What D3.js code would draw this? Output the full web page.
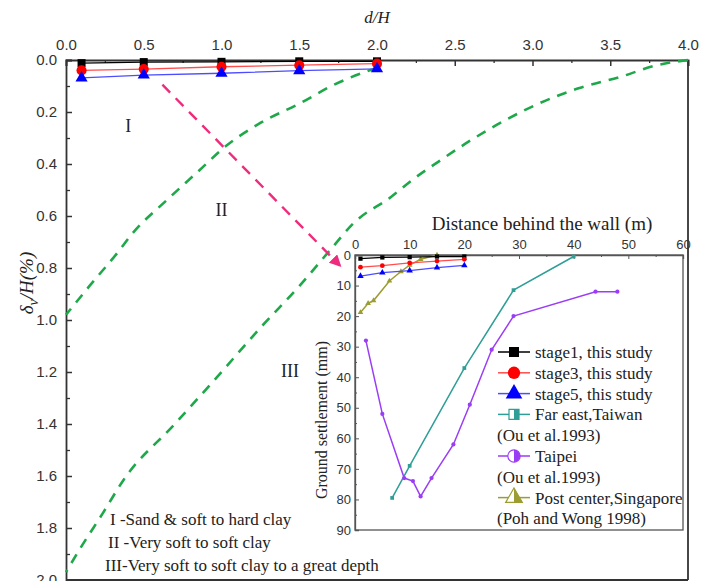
<!DOCTYPE html>
<html>
<head>
<meta charset="utf-8">
<script src="https://cdn.jsdelivr.net/npm/d3@7"></script>
<style>
  body { margin: 0; background: #fff; }
  svg { display: block; }
  .tick text { font-family: "Liberation Sans", Arial, sans-serif; fill: #333; }
  .serif { font-family: "Liberation Serif", "Times New Roman", serif; fill: #222; }
</style>
</head>
<body>
<div id="chart-area"></div>
<script>
// Data //

// distance behind the wall (m), and settlements (mm) of this study
const H = 10; // excavation depth (m), d/H and delta/H (%) of the main plot come from it
const stageDist = [1, 5, 10, 15, 20];
const stage1 = [1.2, 0.8, 0.7, 0.5, 0.5];
const stage3 = [4.0, 3.5, 2.6, 2.0, 1.4];
const stage5 = [6.9, 5.8, 5.1, 4.1, 3.4];

// case histories (distance m, settlement mm)
const farEastDist = [6.8, 10, 20, 29, 40];
const farEastSet = [79.5, 69, 37, 11.5, 0.5];
const taipeiDist = [2, 5, 9, 10.6, 12, 14, 18, 21, 25, 29, 44, 48];
const taipeiSet = [28, 52, 73, 74, 79, 73, 62, 49, 31, 20, 12, 12];
const singDist = [1, 2.4, 3.4, 6.3, 8.4, 10, 12, 15];
const singSet = [18.8, 15.8, 14.9, 8.5, 5.4, 3.3, 1.4, 0];

// zone boundaries (d/H, delta/H %)
const boundary1X = [2.0, 1.72, 1.51, 1.25, 1.02, 0.86, 0.65, 0.43, 0.33, 0.15, 0.0];
const boundary1Y = [0.03, 0.096, 0.165, 0.242, 0.335, 0.423, 0.538, 0.665, 0.742, 0.87, 0.98];
const boundary2X = [4.0, 3.8, 3.57, 3.29, 3.05, 2.83, 2.6, 2.41, 2.23, 2.09, 1.85, 1.70, 1.5, 1.25, 1.0, 0.7, 0.37, 0.24, 0.09, 0.0];
const boundary2Y = [0.0, 0.02, 0.064, 0.11, 0.165, 0.23, 0.31, 0.385, 0.46, 0.527, 0.627, 0.73, 0.87, 1.03, 1.2, 1.4, 1.615, 1.74, 1.88, 1.97];

// arrow from the main plot to the inset (d/H, delta/H %)
const arrowX = [0.62, 1.76];
const arrowY = [0.095, 0.79];

// zone labels
const zoneNames = ["I", "II", "III"];
const zoneX = [0.4, 1.0, 1.44];
const zoneY = [0.275, 0.6, 1.22];
const zoneNotes = ["I -Sand & soft to hard clay", "II -Very soft to soft clay", "III-Very soft to soft clay to a great depth"];

// ticks
const mainXTicks = [0, 0.5, 1, 1.5, 2, 2.5, 3, 3.5, 4];
const mainYTicks = [0, 0.2, 0.4, 0.6, 0.8, 1.0, 1.2, 1.4, 1.6, 1.8, 2.0];
const insetXTicks = [0, 10, 20, 30, 40, 50, 60];
const insetYTicks = [0, 10, 20, 30, 40, 50, 60, 70, 80, 90];

const legendNames = [
  ["stage1, this study"],
  ["stage3, this study"],
  ["stage5, this study"],
  ["Far east,Taiwan", "(Ou et al.1993)"],
  ["Taipei", "(Ou et al.1993)"],
  ["Post center,Singapore", "(Poh and Wong 1998)"]
];

// Canvas //

const svg = d3.select("#chart-area")
  .append("svg")
  .attr("width", 704)
  .attr("height", 581);

const x = d3.scaleLinear().domain([0, 4]).range([66, 688]);
const y = d3.scaleLinear().domain([0, 2]).range([60, 580]);

const x2 = d3.scaleLinear().domain([0, 60]).range([355, 683]);
const y2 = d3.scaleLinear().domain([0, 90]).range([255, 530]);

const zip = (a, b) => a.map((v, i) => [v, b[i]]);

// series styles
const series = [
  {name: "stage1", set: stage1, marker: d3.symbolSquare, mSize: 64, fill: "#000", line: "#000"},
  {name: "stage3", set: stage3, marker: d3.symbolCircle, mSize: 80, fill: "#ff0000", line: "#ff4d4d"},
  {name: "stage5", set: stage5, marker: d3.symbolTriangle, mSize: 64, fill: "#0000ff", line: "#4d4dff"}
];

// Main plot //

// minor ticks
svg.append("g")
  .attr("transform", "translate(0,60)")
  .call(d3.axisTop(x).tickValues(d3.range(0.25, 4, 0.5)).tickSize(-3).tickFormat(""))
  .call(g => g.select(".domain").remove())
  .selectAll("line").attr("stroke", "#333").attr("stroke-width", 1.3);
svg.append("g")
  .attr("transform", "translate(66,0)")
  .call(d3.axisLeft(y).tickValues(d3.range(0.1, 2, 0.2)).tickSize(-4).tickFormat(""))
  .call(g => g.select(".domain").remove())
  .selectAll("line").attr("stroke", "#333").attr("stroke-width", 1.3);

// major axes
var xAxis = svg.append("g")
  .attr("transform", "translate(0,60)")
  .call(d3.axisTop(x).tickValues(mainXTicks).tickSize(-6).tickPadding(10).tickFormat(d3.format(".1f")));
var yAxis = svg.append("g")
  .attr("transform", "translate(66,0)")
  .call(d3.axisLeft(y).tickValues(mainYTicks).tickSize(-6).tickPadding(9).tickFormat(d3.format(".1f")));
[xAxis, yAxis].forEach(a => {
  a.attr("font-size", 15);
  a.selectAll("line").attr("stroke", "#333").attr("stroke-width", 1.5);
  a.select(".domain").attr("stroke", "#333").attr("stroke-width", 1.8);
});

// frame right / bottom
svg.append("line").attr("x1", x(4)).attr("x2", x(4)).attr("y1", y(0)).attr("y2", y(2))
  .attr("stroke", "#333").attr("stroke-width", 1.8);
svg.append("line").attr("x1", x(0)).attr("x2", x(4)).attr("y1", y(2)).attr("y2", y(2))
  .attr("stroke", "#333").attr("stroke-width", 1.8);

// axis titles
svg.append("text")
  .attr("class", "serif")
  .attr("x", (x(0) + x(4)) / 2)
  .attr("y", 23)
  .attr("text-anchor", "middle")
  .attr("font-size", 17)
  .attr("font-style", "italic")
  .text("d/H");

var yTitle = svg.append("text")
  .attr("class", "serif")
  .attr("transform", "translate(33,283) rotate(-90)")
  .attr("text-anchor", "middle")
  .attr("font-size", 19)
  .attr("font-style", "italic");
yTitle.append("tspan").text("δ");
yTitle.append("tspan").attr("font-size", 14).attr("dy", 5).text("v");
yTitle.append("tspan").attr("dy", -5).text("/H(%)");

// zone boundaries
const lineMain = d3.line().x(d => x(d[0])).y(d => y(d[1]));
[zip(boundary1X, boundary1Y), zip(boundary2X, boundary2Y)].forEach(b => {
  svg.append("path")
    .attr("d", d3.line().curve(d3.curveMonotoneX).x(d => x(d[0])).y(d => y(d[1]))(b))
    .attr("fill", "none")
    .attr("stroke", "#1fa84a")
    .attr("stroke-width", 2.6)
    .attr("stroke-dasharray", "10,8");
});

// zone labels
svg.selectAll(".zone")
  .data(zoneNames)
  .enter().append("text")
  .attr("class", "serif zone")
  .attr("x", (d, i) => x(zoneX[i]))
  .attr("y", (d, i) => y(zoneY[i]))
  .attr("text-anchor", "middle")
  .attr("font-size", 18)
  .text(d => d);

svg.selectAll(".note")
  .data(zoneNotes)
  .enter().append("text")
  .attr("class", "serif note")
  .attr("x", (d, i) => [110, 108, 105][i])
  .attr("y", (d, i) => 525 + i * 23)
  .attr("font-size", 17)
  .text(d => d);

// arrow
svg.append("defs").append("marker")
  .attr("id", "head")
  .attr("viewBox", "0 0 10 10")
  .attr("refX", 8).attr("refY", 5)
  .attr("markerWidth", 5).attr("markerHeight", 5)
  .attr("orient", "auto")
  .append("path").attr("d", "M0,0L10,5L0,10z").attr("fill", "#ee2b7c");
svg.append("path")
  .attr("d", lineMain(zip(arrowX, arrowY)))
  .attr("stroke", "#ee2b7c")
  .attr("stroke-width", 2.4)
  .attr("stroke-dasharray", "11,8")
  .attr("marker-end", "url(#head)");

// this study, main plot (settlement mm -> % of H)
series.forEach(s => {
  const pts = zip(stageDist.map(d => d / H), s.set.map(v => v / (H * 10)));
  svg.append("path")
    .attr("d", lineMain(pts))
    .attr("fill", "none")
    .attr("stroke", s.line)
    .attr("stroke-width", 1.3);
  svg.selectAll(".m-" + s.name)
    .data(pts)
    .enter().append("path")
    .attr("transform", d => "translate(" + x(d[0]) + "," + y(d[1]) + ")")
    .attr("d", d3.symbol().type(s.marker).size(s.mSize))
    .attr("fill", s.fill);
});

// Inset //

var inset = svg.append("g");

inset.append("rect")
  .attr("x", x2(0)).attr("y", y2(0))
  .attr("width", x2(60) - x2(0)).attr("height", y2(90) - y2(0))
  .attr("fill", "#fff")
  .attr("stroke", "#555")
  .attr("stroke-width", 1.3);

inset.append("g")
  .attr("transform", "translate(0," + y2(0) + ")")
  .call(d3.axisTop(x2).tickValues(d3.range(5, 60, 10)).tickSize(-2).tickFormat(""))
  .call(g => g.select(".domain").remove())
  .selectAll("line").attr("stroke", "#555");
inset.append("g")
  .attr("transform", "translate(" + x2(0) + ",0)")
  .call(d3.axisLeft(y2).tickValues(d3.range(5, 90, 10)).tickSize(-2).tickFormat(""))
  .call(g => g.select(".domain").remove())
  .selectAll("line").attr("stroke", "#555");

var ix = inset.append("g")
  .attr("transform", "translate(0," + y2(0) + ")")
  .call(d3.axisTop(x2).tickValues(insetXTicks).tickSize(-4).tickPadding(6));
var iy = inset.append("g")
  .attr("transform", "translate(" + x2(0) + ",0)")
  .call(d3.axisLeft(y2).tickValues(insetYTicks).tickSize(-4).tickPadding(4));
[ix, iy].forEach(a => {
  a.attr("font-size", 13);
  a.selectAll("line").attr("stroke", "#555");
  a.select(".domain").attr("stroke", "#555").attr("stroke-width", 1.3);
});

inset.append("text")
  .attr("class", "serif")
  .attr("x", 542)
  .attr("y", 230)
  .attr("text-anchor", "middle")
  .attr("font-size", 19)
  .text("Distance behind the wall (m)");

inset.append("text")
  .attr("class", "serif")
  .attr("transform", "translate(327,420) rotate(-90)")
  .attr("text-anchor", "middle")
  .attr("font-size", 16)
  .text("Ground settlement (mm)");

const lineInset = d3.line().x(d => x2(d[0])).y(d => y2(d[1]));

const cases = [
  {name: "fareast", pts: zip(farEastDist, farEastSet), color: "#2e9e96", marker: d3.symbolSquare},
  {name: "taipei", pts: zip(taipeiDist, taipeiSet), color: "#9b3df5", marker: d3.symbolCircle},
  {name: "sing", pts: zip(singDist, singSet), color: "#9c9c30", marker: d3.symbolTriangle}
];

cases.forEach(c => {
  inset.append("path")
    .attr("d", lineInset(c.pts))
    .attr("fill", "none")
    .attr("stroke", c.color)
    .attr("stroke-width", 1.5);
  inset.selectAll(".c-" + c.name)
    .data(c.pts)
    .enter().append("path")
    .attr("transform", d => "translate(" + x2(d[0]) + "," + y2(d[1]) + ")")
    .attr("d", d3.symbol().type(c.marker).size(14))
    .attr("fill", c.color);
});

series.forEach(s => {
  const pts = zip(stageDist, s.set);
  inset.append("path")
    .attr("d", lineInset(pts))
    .attr("fill", "none")
    .attr("stroke", s.line)
    .attr("stroke-width", 1.3);
  inset.selectAll(".i-" + s.name)
    .data(pts)
    .enter().append("path")
    .attr("transform", d => "translate(" + x2(d[0]) + "," + y2(d[1]) + ")")
    .attr("d", d3.symbol().type(s.marker).size(18))
    .attr("fill", s.fill);
});

// legend
const legendStyles = series.map(s => ({color: s.line, fill: s.fill, marker: s.marker, half: false}))
  .concat(cases.map(c => ({color: c.color, fill: c.color, marker: c.marker, half: true})));

var rowY = 352;
legendNames.forEach((names, i) => {
  const st = legendStyles[i];
  const g = inset.append("g").attr("transform", "translate(0," + rowY + ")");
  g.append("line").attr("x1", 498).attr("x2", 530)
    .attr("stroke", st.color).attr("stroke-width", 1.5);
  const size = st.marker === d3.symbolSquare ? 100 : 120;
  g.append("path")
    .attr("transform", "translate(514,0)")
    .attr("d", d3.symbol().type(st.marker).size(size))
    .attr("fill", st.half ? "#fff" : st.fill)
    .attr("stroke", st.half ? st.color : "none")
    .attr("stroke-width", 1.2);
  if (st.half) {
    g.append("clipPath").attr("id", "half" + i)
      .append("rect").attr("x", 0).attr("y", -9).attr("width", 9).attr("height", 18);
    g.append("path")
      .attr("transform", "translate(514,0)")
      .attr("d", d3.symbol().type(st.marker).size(size))
      .attr("fill", st.fill)
      .attr("clip-path", "url(#half" + i + ")");
  }
  g.append("text")
    .attr("class", "serif")
    .attr("x", 535)
    .attr("dy", "0.35em")
    .attr("font-size", 17)
    .text(names[0]);
  rowY += 20.8;
  if (names[1]) {
    inset.append("text")
      .attr("class", "serif")
      .attr("x", 497)
      .attr("y", rowY)
      .attr("dy", "0.35em")
      .attr("font-size", 17)
      .text(names[1]);
    rowY += 20.8;
  }
});
</script>
</body>
</html>
